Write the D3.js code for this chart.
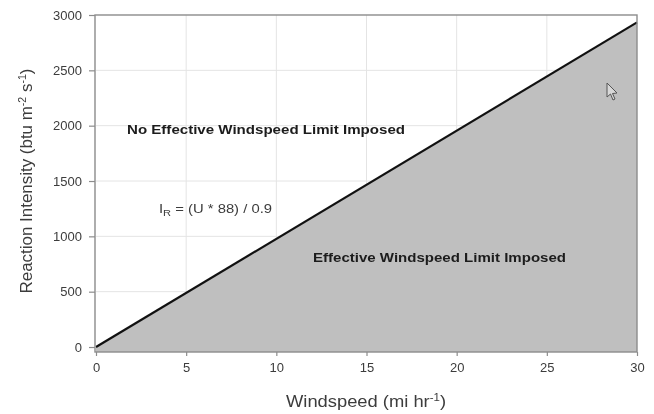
<!DOCTYPE html>
<html><head><meta charset="utf-8">
<script src="https://cdn.jsdelivr.net/npm/d3@7/dist/d3.min.js"></script>
<style>html,body{margin:0;padding:0;background:#fff}svg{display:block;filter:blur(0.4px)}text{font-family:"Liberation Sans",Arial,sans-serif}</style>
</head><body><svg id="c" width="654" height="414"></svg>
<script>
const xTicks=[0,5,10,15,20,25,30];
const yTicks=[0,500,1000,1500,2000,2500,3000];
const windspeed=[0,30];
const intensity=[0,2933];
const xDomain=[0,30];
const yDomain=[-45,3000];
const svg=d3.select("#c");
const x=d3.scaleLinear().domain(xDomain).range([96,637]);
const y=d3.scaleLinear().domain(yDomain).range([352,15]);
const pts=windspeed.map((u,i)=>[u,intensity[i]]);
const axisCol="#8c8c8c",txt="#3c3c3c";
svg.append("g").selectAll("line").data(xTicks.slice(1,-1)).join("line")
 .attr("x1",d=>x(d)).attr("x2",d=>x(d)).attr("y1",y.range()[1]).attr("y2",y.range()[0]).attr("stroke","#e4e4e4");
svg.append("g").selectAll("line").data(yTicks.slice(1,-1)).join("line")
 .attr("x1",x.range()[0]).attr("x2",x.range()[1]).attr("y1",d=>y(d)).attr("y2",d=>y(d)).attr("stroke","#e4e4e4");
svg.append("path").datum(pts).attr("fill","#bfbfbf")
 .attr("d",d3.area().x(d=>x(d[0])).y0(y(yDomain[0])).y1(d=>y(d[1])));
svg.append("path").datum(pts).attr("fill","none").attr("stroke","#111").attr("stroke-width",2.2)
 .attr("d",d3.line().x(d=>x(d[0])).y(d=>y(d[1])));
svg.append("rect").attr("x",x.range()[0]-1).attr("y",y.range()[1]).attr("width",x.range()[1]-x.range()[0]+1).attr("height",y.range()[0]-y.range()[1])
 .attr("fill","none").attr("stroke",axisCol).attr("stroke-width",1.4);
const gx=svg.append("g").attr("transform",`translate(0,${y.range()[0]})`)
 .call(d3.axisBottom(x).tickValues(xTicks).tickFormat(d3.format("d")).tickSize(4).tickPadding(6.5));
const gy=svg.append("g").attr("transform",`translate(${x.range()[0]-1},0)`)
 .call(d3.axisLeft(y).tickValues(yTicks).tickFormat(d3.format("d")).tickSize(6).tickPadding(7));
[gx,gy].forEach(g=>{g.select(".domain").remove();
 g.selectAll("line").attr("stroke",axisCol).attr("stroke-width",1.2);
 g.selectAll("text").attr("font-size",13).attr("fill",txt).attr("font-family",'"Liberation Sans",Arial,sans-serif');});
svg.append("text").attr("x",366).attr("y",407).attr("text-anchor","middle").attr("font-size",16).attr("fill",txt)
 .attr("textLength",160).attr("lengthAdjust","spacingAndGlyphs")
 .html('Windspeed (mi hr<tspan dy="-6" font-size="10">-1</tspan><tspan dy="6">)</tspan>');
svg.append("text").attr("transform","translate(32,181) rotate(-90)").attr("text-anchor","middle").attr("font-size",16).attr("fill",txt)
 .attr("textLength",225).attr("lengthAdjust","spacingAndGlyphs")
 .html('Reaction Intensity (btu m<tspan dy="-6" font-size="10">-2</tspan><tspan dy="6"> s</tspan><tspan dy="-6" font-size="10">-1</tspan><tspan dy="6">)</tspan>');
svg.append("text").attr("x",127).attr("y",134).attr("font-size",12.5).attr("font-weight","bold").attr("fill","#1c1c1c")
 .attr("textLength",278).attr("lengthAdjust","spacingAndGlyphs").text("No Effective Windspeed Limit Imposed");
svg.append("text").attr("x",313).attr("y",262).attr("font-size",12.5).attr("font-weight","bold").attr("fill","#1c1c1c")
 .attr("textLength",253).attr("lengthAdjust","spacingAndGlyphs").text("Effective Windspeed Limit Imposed");
svg.append("text").attr("x",159).attr("y",213).attr("font-size",12).attr("fill",txt)
 .attr("textLength",113).attr("lengthAdjust","spacingAndGlyphs")
 .html('I<tspan dy="3" font-size="9">R</tspan><tspan dy="-3"> = (U * 88) / 0.9</tspan>');
svg.append("path").attr("d","M607,83 L607,97 L610.5,94 L613,100 L615,99 L612.5,93.5 L617,93 Z").attr("fill","#d8d8d8").attr("stroke","#555").attr("stroke-width",1);
</script></body></html>
